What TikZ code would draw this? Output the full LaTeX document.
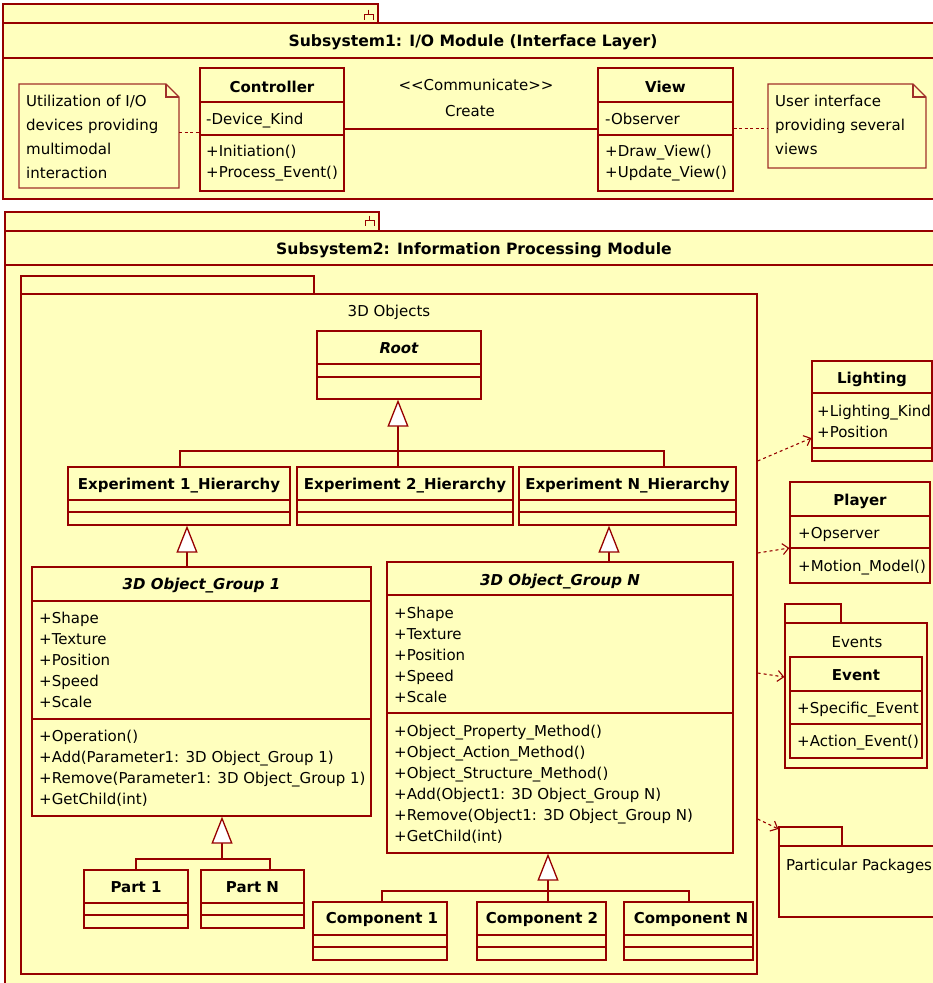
\documentclass[tikz,border=0pt]{standalone}
\usepackage{fontspec}
\setmainfont{DejaVu Sans}
\usetikzlibrary{arrows.meta,fit}

\definecolor{umlfill}{HTML}{FFFFBE}
\definecolor{umlline}{HTML}{960000}
\definecolor{noteline}{HTML}{A0302A}

\tikzset{
  edge/.style={draw=umlline, line width=1.3pt},
  box/.style={draw=umlline, fill=umlfill, line width=1.3pt, inner sep=0pt},
  notebox/.style={box, draw=noteline},
  ghost/.style={inner sep=0pt},
  lbl/.style={inner sep=0pt, text=black, font=\fontsize{15}{21}\selectfont},
  ttl/.style={lbl, font=\fontsize{15}{21}\selectfont\bfseries},
  bigttl/.style={lbl, font=\fontsize{15.6}{21}\selectfont\bfseries},
  ittl/.style={lbl, font=\fontsize{15}{21}\selectfont\bfseries\itshape},
  gen/.style={edge, -{Triangle[open, fill=white, length=27pt, width=21pt]}},
  dep/.style={edge, line width=1.1pt, dash pattern=on 3pt off 3pt, -{Straight Barb[length=6pt, width=11pt]}},
  notelink/.style={edge, line width=1pt, dash pattern=on 3pt off 2.5pt},
}

% class box: name, x1, y1, x2, y2, first and second compartment lines
\newcommand\umlclass[7]{%
  \node[box, fit={(#2,#3) (#4,#5)}] (#1) {};
  \draw[edge] (#2,#6) -- (#4,#6);
  \draw[edge] (#2,#7) -- (#4,#7);
}
% package icon in the tab
\newcommand\pkgicon[2]{%
  \draw[edge, line width=1pt] (#1,#2) -- (#1,#2+4.5);
  \draw[edge, line width=1pt] (#1-4.5,#2+10) -- (#1-4.5,#2+4.5) -- (#1+4.5,#2+4.5) -- (#1+4.5,#2+10);
}

\begin{document}
\begin{tikzpicture}[x=1pt, y=-1pt]
\useasboundingbox (0,0) rectangle (933,983);
\clip (0,0) rectangle (933,983);
\fill[white] (0,0) rectangle (933,983);

% ---------------- Subsystem 1 ----------------
\draw[box] (3,4) rectangle (378,23);
\node[box, fit={(3,23) (940,199)}] (sub1) {};
\draw[edge] (3,58) -- (940,58);
\pkgicon{368.5}{9.5}
\node[bigttl, anchor=base] (sub1T) at (473,46) {Subsystem1: I/O Module (Interface Layer)};

% note on the left
\draw[notebox] (19,84) -- (166,84) -- (179,97) -- (179,188) -- (19,188) -- cycle;
\draw[edge, draw=noteline] (166,84) -- (166,97) -- (179,97);
\node[ghost, fit={(19,84) (179,188)}] (note1) {};
\foreach \t [count=\i] in {Utilization of I/O, devices providing, multimodal, interaction}
  \node[lbl, anchor=base west] (n1l\i) at (26, 82+24*\i) {\t};

% note on the right
\draw[notebox] (768,84) -- (913,84) -- (926,97) -- (926,168) -- (768,168) -- cycle;
\draw[edge, draw=noteline] (913,84) -- (913,97) -- (926,97);
\node[ghost, fit={(768,84) (926,168)}] (note2) {};
\foreach \t [count=\i] in {User interface, providing several, views}
  \node[lbl, anchor=base west] (n2l\i) at (775, 82+24*\i) {\t};

% Controller
\umlclass{ctrl}{200}{68}{344}{191}{102}{135}
\node[ttl, anchor=base] (ctrlT) at (272,92) {Controller};
\node[lbl, anchor=base west] (ctrlA) at (206,124) {-Device\_Kind};
\node[lbl, anchor=base west] (ctrlM1) at (206,156) {+Initiation()};
\node[lbl, anchor=base west] (ctrlM2) at (206,177) {+Process\_Event()};

% View
\umlclass{view}{598}{68}{733}{191}{102}{135}
\node[ttl, anchor=base] (viewT) at (665.5,92) {View};
\node[lbl, anchor=base west] (viewA) at (605,124) {-Observer};
\node[lbl, anchor=base west] (viewM1) at (605,156) {+Draw\_View()};
\node[lbl, anchor=base west] (viewM2) at (605,177) {+Update\_View()};

% association and note links
\draw[edge] (ctrl.east |- 0,129) -- (view.west |- 0,129);
\node[lbl, anchor=base] (assocS) at (476,90) {<{}<Communicate>{}>};
\node[lbl, anchor=base] (assocN) at (470,116) {Create};
\draw[notelink] (note1.east |- 0,132) -- (ctrl.west |- 0,132);
\draw[notelink] (view.east |- 0,128) -- (note2.west |- 0,128);

% ---------------- Subsystem 2 ----------------
\draw[box] (5,212) rectangle (379,231);
\node[box, fit={(5,231) (940,995)}] (sub2) {};
\draw[edge] (5,265) -- (940,265);
\pkgicon{369.5}{215.5}
\node[bigttl, anchor=base] (sub2T) at (474,254) {Subsystem2: Information Processing Module};

% package 3D Objects
\draw[box] (21,276) rectangle (314,294);
\node[box, fit={(21,294) (757,974)}] (objs) {};
\node[lbl, anchor=base] (objsT) at (389,316) {3D Objects};

% hierarchy root
\umlclass{root}{317}{331}{481}{399}{364}{377}
\node[ittl, anchor=base] (rootT) at (399,353) {Root};

\umlclass{exp1}{68}{467}{290}{525}{500}{512}
\node[ttl, anchor=base] (exp1T) at (179,489) {Experiment 1\_Hierarchy};
\umlclass{exp2}{297}{467}{513}{525}{500}{512}
\node[ttl, anchor=base] (exp2T) at (405,489) {Experiment 2\_Hierarchy};
\umlclass{expN}{519}{467}{736}{525}{500}{512}
\node[ttl, anchor=base] (expNT) at (627.5,489) {Experiment N\_Hierarchy};

\coordinate (d1) at (180,451);
\coordinate (d2) at (398,451);
\coordinate (d3) at (664,451);
\draw[edge] (d1 |- exp1.north) -- (d1) -- (d3) -- (d3 |- expN.north);
\draw[edge] (d2 |- exp2.north) -- (d2);
\draw[gen] (d2) -- (d2 |- root.south);

% object groups
\umlclass{grp1}{32}{567}{371}{816}{601}{719}
\node[ittl, anchor=base] (grp1T) at (201.5,589) {3D Object\_Group 1};
\foreach \t [count=\i] in {+Shape,+Texture,+Position,+Speed,+Scale}
  \node[lbl, anchor=base west] (g1a\i) at (39, 602+21*\i) {\t};
\foreach \t [count=\i] in {{+Operation()},{+Add(Parameter1: 3D Object\_Group 1)},{+Remove(Parameter1: 3D Object\_Group 1)},{+GetChild(int)}}
  \node[lbl, anchor=base west] (g1m\i) at (39, 720+21*\i) {\t};

\umlclass{grpN}{387}{562}{733}{853}{595}{713}
\node[ittl, anchor=base] (grpNT) at (560,585) {3D Object\_Group N};
\foreach \t [count=\i] in {+Shape,+Texture,+Position,+Speed,+Scale}
  \node[lbl, anchor=base west] (gNa\i) at (394, 597+21*\i) {\t};
\foreach \t [count=\i] in {{+Object\_Property\_Method()},{+Object\_Action\_Method()},{+Object\_Structure\_Method()},{+Add(Object1: 3D Object\_Group N)},{+Remove(Object1: 3D Object\_Group N)},{+GetChild(int)}}
  \node[lbl, anchor=base west] (gNm\i) at (394, 715+21*\i) {\t};

\coordinate (s1) at (187,540);
\coordinate (sN) at (609,540);
\draw[gen] (grp1.north -| s1) -- (exp1.south -| s1);
\draw[gen] (grpN.north -| sN) -- (expN.south -| sN);

% parts
\umlclass{part1}{84}{870}{188}{928}{903}{915}
\node[ttl, anchor=base] (part1T) at (136,892) {Part 1};
\umlclass{partN}{201}{870}{304}{928}{903}{915}
\node[ttl, anchor=base] (partNT) at (252.5,892) {Part N};
\coordinate (p1) at (136,859);
\coordinate (p2) at (222,859);
\coordinate (p3) at (270,859);
\draw[edge] (p1 |- part1.north) -- (p1) -- (p3) -- (p3 |- partN.north);
\draw[gen] (p2) -- (p2 |- grp1.south);

% components
\umlclass{comp1}{313}{902}{447}{960}{935}{947}
\node[ttl, anchor=base] (comp1T) at (382,923) {Component 1};
\umlclass{comp2}{477}{902}{606}{960}{935}{947}
\node[ttl, anchor=base] (comp2T) at (542,923) {Component 2};
\umlclass{compN}{624}{902}{753}{960}{935}{947}
\node[ttl, anchor=base] (compNT) at (691,923) {Component N};
\coordinate (c1) at (382,891);
\coordinate (c2) at (548,891);
\coordinate (c3) at (689,891);
\draw[edge] (c1 |- comp1.north) -- (c1) -- (c3) -- (c3 |- compN.north);
\draw[edge] (c2 |- comp2.north) -- (c2);
\draw[gen] (c2) -- (c2 |- grpN.south);

% ---------------- right column ----------------
\umlclass{light}{812}{361}{932}{461}{393}{448}
\node[ttl, anchor=base] (lightT) at (872,383) {Lighting};
\node[lbl, anchor=base west] (lightA1) at (817,416) {+Lighting\_Kind};
\node[lbl, anchor=base west] (lightA2) at (817,437) {+Position};

\umlclass{player}{790}{482}{930}{583}{516}{548}
\node[ttl, anchor=base] (playerT) at (860,505) {Player};
\node[lbl, anchor=base west] (playerA) at (798,538) {+Opserver};
\node[lbl, anchor=base west] (playerM) at (798,571) {+Motion\_Model()};

\draw[box] (785,604) rectangle (841,623);
\node[box, fit={(785,623) (927,768)}] (evpkg) {};
\node[lbl, anchor=base] (evpkgT) at (857,647) {Events};
\umlclass{event}{790}{657}{922}{758}{691}{724}
\node[ttl, anchor=base] (eventT) at (856,680) {Event};
\node[lbl, anchor=base west] (eventA) at (797,713) {+Specific\_Event};
\node[lbl, anchor=base west] (eventM) at (797,746) {+Action\_Event()};

\node[box, fit={(779,827) (842,846)}] (ptab) {};
\node[box, fit={(779,846) (945,917)}] (ppkg) {};
\node[lbl, anchor=base west] (ppkgT) at (786,870) {Particular Packages};

% dependencies of the 3D Objects package
\draw[dep] (objs.east |- 0,461) -- (light.west |- 0,438);
\draw[dep] (objs.east |- 0,553) -- (player.west |- 0,548);
\draw[dep] (objs.east |- 0,673) -- (evpkg.west |- 0,677);
\draw[dep] (objs.east |- 0,819) -- (ptab.west |- 0,829);
\end{tikzpicture}
\end{document}
